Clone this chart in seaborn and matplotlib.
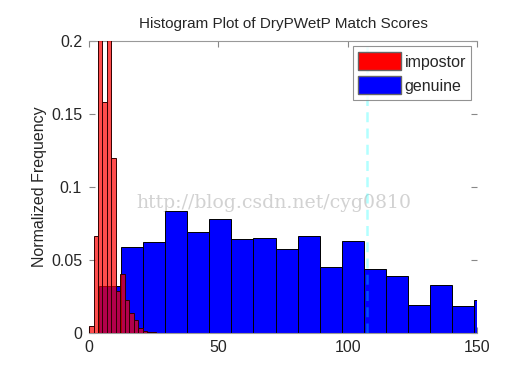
import matplotlib
matplotlib.use("Agg")
import matplotlib.pyplot as plt
import seaborn as sns
import numpy as np
import pandas as pd
from matplotlib.patches import Patch

# impostor histogram (narrow bins), heights
impostor_start = 0.0
impostor_width = 1.73
impostor_heights = [0.005, 0.0664, 0.26, 0.158, 0.24, 0.120, 0.029, 0.0406,
                    0.0226, 0.0139, 0.0089, 0.0037, 0.0014, 0.0008, 0.0005, 0.0003]

# genuine histogram (wide bins)
genuine_start = 3.87
genuine_width = 8.53
genuine_heights = [0.0321, 0.0587, 0.0622, 0.0835, 0.0690, 0.0780, 0.0642, 0.0651,
                   0.0576, 0.0661, 0.0450, 0.0633, 0.0436, 0.0392, 0.0193, 0.0326,
                   0.0188, 0.0225]

threshold = 107.5
labels = ["impostor", "genuine"]
title = "Histogram Plot of DryPWetP Match Scores"
ylabel = "Normalized Frequency"
watermark = "http://blog.csdn.net/cyg0810"

sns.set_theme(style="white")
plt.rcParams['font.family'] = ['Liberation Sans', 'DejaVu Sans']

def bins_for(start, width, heights):
    edges = start + width * np.arange(len(heights) + 1)
    d = pd.DataFrame({'score': edges[:-1] + width / 2, 'freq': heights})
    # seaborn compares bins to "auto", so hand it a plain list
    return [float(e) for e in edges], d

imp_edges, imp_df = bins_for(impostor_start, impostor_width, impostor_heights)
gen_edges, gen_df = bins_for(genuine_start, genuine_width, genuine_heights)

fig = plt.figure(figsize=(5.3, 3.85), dpi=100)
ax = fig.add_axes([0.168, 0.135, 0.732, 0.759])

ax.text(0.477, 0.445, watermark, transform=ax.transAxes, ha='center', va='center',
        fontsize=13.6, color='#d2d2d2', family='DejaVu Serif', zorder=0)

sns.histplot(data=gen_df, x='score', weights='freq', bins=gen_edges, ax=ax,
             color='#0000ff', alpha=1, edgecolor='black', linewidth=0.7, zorder=2)
sns.histplot(data=imp_df, x='score', weights='freq', bins=imp_edges, ax=ax,
             color='#ff0000', alpha=0.7, edgecolor='#300000', linewidth=0.7, zorder=3)

ax.axvline(threshold, color='cyan', alpha=0.3, lw=1.8, ls=(0, (4, 2.5)), zorder=4)

ax.set_xlim(0, 150)
ax.set_ylim(0, 0.2)
ax.set_xticks([0, 50, 100, 150])
ax.set_xticklabels(['0', '50', '100', '150'])
ax.set_yticks([0, 0.05, 0.1, 0.15, 0.2])
ax.set_yticklabels(['0', '0.05', '0.1', '0.15', '0.2'])
ax.set_title(title, fontsize=11, pad=9)
ax.set_ylabel(ylabel, fontsize=11.5, labelpad=3)
ax.set_xlabel('')

for side in ['left', 'right']:
    ax.spines[side].set_visible(False)
for side in ['top', 'bottom']:
    ax.spines[side].set_color('#999999')
    ax.spines[side].set_linewidth(0.8)
ax.tick_params(axis='both', direction='in', length=4, width=0.8, color='#888888',
               labelsize=11.5, top=True, right=True, bottom=True, left=True, pad=5)

handles = [Patch(facecolor='#ff0000', edgecolor='#666666'),
           Patch(facecolor='#0000ff', edgecolor='#666666')]
leg = ax.legend(handles, labels, loc='upper right', fontsize=11.5, frameon=True,
                fancybox=False, handlelength=2.7, handleheight=1.4, handletextpad=0.2,
                borderaxespad=0.35, borderpad=0.35, labelspacing=0.35)
leg.get_frame().set_edgecolor('#777777')
leg.get_frame().set_linewidth(0.8)
leg.set_zorder(5)

fig.savefig('out.png', dpi=100)
